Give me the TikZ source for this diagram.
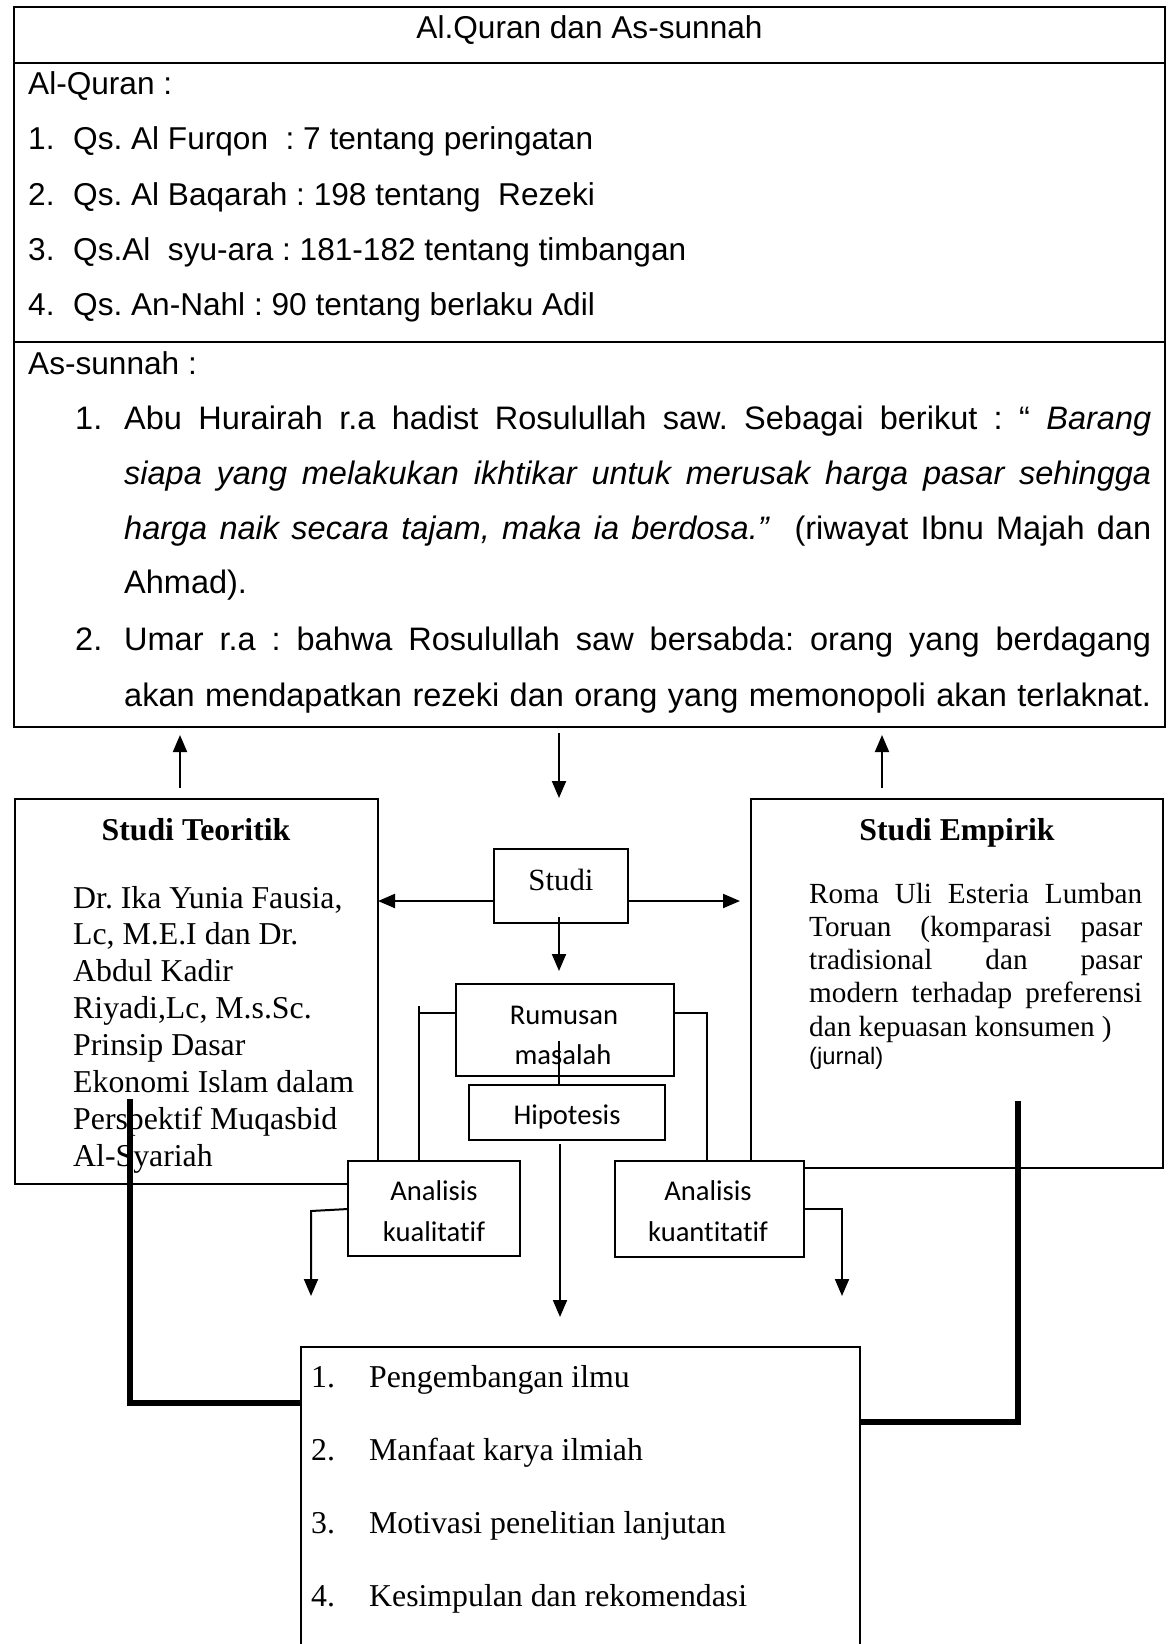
\documentclass[tikz,border=0pt]{standalone}
\usepackage{fontspec}
\setmainfont{Liberation Serif}
\newfontfamily\arialf{Liberation Sans}
\newfontfamily\calf[Ligatures=NoCommon]{Carlito}
\usetikzlibrary{arrows.meta}

\begin{document}
\frenchspacing
\begin{tikzpicture}[x=1pt,y=-1pt,
  boxframe/.style={draw, line width=2pt, fill=white, inner sep=0pt, outer sep=0pt},
  link/.style={line width=2pt},
  arr/.style={line width=2pt, -{Triangle[width=14pt,length=17pt]}},
  heavy/.style={line width=5.5pt},
  lt/.style={inner sep=0pt, anchor=base west},
  ct/.style={inner sep=0pt, anchor=base},
  sansq/.style={font=\arialf\fontsize{31.6}{38}\selectfont},
  sanss/.style={font=\arialf\fontsize{32.5}{39}\selectfont},
  serifb/.style={font=\fontsize{31.8}{37}\selectfont},
  serife/.style={font=\fontsize{29.2}{34}\selectfont},
  calib/.style={font=\calf\fontsize{28.6}{34}\selectfont}
]
\useasboundingbox (0,0) rectangle (1170,1644);
\fill[white] (0,0) rectangle (1170,1644);

% ---------- sources box ----------
\node[boxframe, line width=2.5pt, minimum width=1151pt, minimum height=720pt] (top) at (589.5,367) {};
\draw[line width=2.5pt] (top.west |- 0,63) -- (top.east |- 0,63);
\draw[line width=2.5pt] (top.west |- 0,342) -- (top.east |- 0,342);

\node[ct, sansq] (title) at (589.5,38) {Al.Quran dan As-sunnah};
\node[lt, sansq] (quran) at (28,94) {Al-Quran :};
\node[lt, sansq] (q1) at (28,149) {\makebox[45pt][l]{1.}Qs. Al Furqon\ \ : 7 tentang peringatan};
\node[lt, sansq] (q2) at (28,205) {\makebox[45pt][l]{2.}Qs. Al Baqarah : 198 tentang\ \ Rezeki};
\node[lt, sansq] (q3) at (28,260) {\makebox[45pt][l]{3.}Qs.Al\ \ syu-ara : 181-182 tentang timbangan};
\node[lt, sansq] (q4) at (28,315) {\makebox[45pt][l]{4.}Qs. An-Nahl : 90 tentang berlaku Adil};
\node[lt, sansq] (sunnah) at (28,374) {As-sunnah :};

\node[lt, sanss] (s1n) at (75,429) {1.};
\node[lt, sanss] (s1a) at (124,429) {\makebox[1027pt][s]{Abu Hurairah r.a hadist Rosulullah saw. Sebagai berikut : “ \textit{Barang}}};
\node[lt, sanss] (s1b) at (124,484) {\makebox[1027pt][s]{\itshape siapa yang melakukan ikhtikar untuk merusak harga pasar sehingga}};
\node[lt, sanss] (s1c) at (124,539) {\makebox[1027pt][s]{\textit{harga naik secara tajam, maka ia berdosa.”}\ \ (riwayat Ibnu Majah dan}};
\node[lt, sanss] (s1d) at (124,593) {Ahmad).};
\node[lt, sanss] (s2n) at (75,650) {2.};
\node[lt, sanss] (s2a) at (124,650) {\makebox[1027pt][s]{Umar r.a : bahwa Rosulullah saw bersabda: orang yang berdagang}};
\node[lt, sanss] (s2b) at (124,706) {\makebox[1027pt][s]{akan mendapatkan rezeki dan orang yang memonopoli akan terlaknat.}};

% ---------- study boxes ----------
\node[boxframe, minimum width=363.5pt, minimum height=385pt] (teoritik) at (196.25,991.5) {};
\node[boxframe, minimum width=412pt, minimum height=369pt] (empirik) at (957,983.5) {};
\node[boxframe, minimum width=134pt, minimum height=74pt] (studi) at (561,886) {};
\node[boxframe, minimum width=218pt, minimum height=92pt] (rumusan) at (565,1030) {};
\node[boxframe, minimum width=196pt, minimum height=55pt] (hipotesis) at (567,1112.5) {};

\node[ct, font=\bfseries\fontsize{31.8}{37}\selectfont] (teotitle) at (196,840) {Studi Teoritik};
\foreach \t [count=\i from 0] in {{Dr. Ika Yunia Fausia,},{Lc, M.E.I dan Dr.},{Abdul Kadir},{Riyadi,Lc, M.s.Sc.},{Prinsip Dasar},{Ekonomi Islam dalam},{Perspektif Muqasbid},{Al-Syariah}}
  \node[lt, serifb] (teo-\i) at (73,{908+36.9*\i}) {\t};

\node[ct, font=\bfseries\fontsize{31.8}{37}\selectfont] (emptitle) at (957,840) {Studi Empirik};
\node[lt, serife] (emp-0) at (809,903) {\makebox[333pt][s]{Roma Uli Esteria Lumban}};
\node[lt, serife] (emp-1) at (809,936) {\makebox[333pt][s]{Toruan (komparasi pasar}};
\node[lt, serife] (emp-2) at (809,969) {\makebox[333pt][s]{tradisional dan pasar}};
\node[lt, serife] (emp-3) at (809,1002) {\makebox[333pt][s]{modern terhadap preferensi}};
\node[lt, serife] (emp-4) at (809,1036) {dan kepuasan konsumen )};
\node[lt, font=\arialf\fontsize{23.8}{28}\selectfont] (emp-5) at (809,1064) {(jurnal)};

\node[ct, font=\fontsize{30.8}{36}\selectfont] (studitxt) at (561,890) {Studi};
\node[ct, calib] (rum-0) at (564,1024) {Rumusan};
\node[ct, calib] (rum-1) at (563,1064) {masalah};
\node[ct, calib] (hiptxt) at (567,1124) {Hipotesis};

% ---------- connectors ----------
\draw[arr, shorten <=11pt, shorten >=8pt] (teoritik.north -| 180,0) -- (top.south -| 180,0);
\draw[arr, shorten <=6pt, shorten >=51pt] (top.south -| 559,0) -- (studi.north -| 559,0);
\draw[arr, shorten <=11pt, shorten >=8pt] (empirik.north -| 882,0) -- (top.south -| 882,0);

\draw[arr] (studi.west |- 0,901) -- (teoritik.east |- 0,901);
\draw[arr, shorten >=11pt] (studi.east |- 0,901) -- (empirik.west |- 0,901);
\draw[arr, shorten <=-6pt, shorten >=13pt] (studi.south -| 559,0) -- (rumusan.north -| 559,0);

\coordinate (ljoin) at (419,1006);
\draw[link] (rumusan.west |- 0,1013) -- (ljoin |- 0,1013);
\draw[link] (559,1041) -- (hipotesis.north -| 559,0);
\draw[arr, shorten <=4pt, shorten >=30pt] (hipotesis.south -| 560,0) -- (560,1347);

% ---------- analysis boxes ----------
\node[boxframe, minimum width=172pt, minimum height=95pt] (kualitatif) at (434,1208.5) {};
\node[boxframe, minimum width=189pt, minimum height=96pt] (kuantitatif) at (709.5,1209) {};
\draw[link] (ljoin) -- (ljoin |- kualitatif.north);
\draw[link] (rumusan.east |- 0,1013) -| (kuantitatif.north -| 707,0);

\node[ct, calib] (kl-0) at (434,1200) {Analisis};
\node[ct, calib] (kl-1) at (434,1241) {kualitatif};
\node[ct, calib] (kn-0) at (708,1200) {Analisis};
\node[ct, calib] (kn-1) at (708,1241) {kuantitatif};

\coordinate (kltip) at (311,1296);
\coordinate (kntip) at (842,1296);
\draw[arr] (kualitatif.west |- 0,1209) -- (kltip |- 0,1211) -- (kltip);
\draw[arr] (kuantitatif.east |- 0,1209) -| (kntip);

% ---------- results box ----------
\node[boxframe, anchor=north west, minimum width=559pt, minimum height=320pt] (hasil) at (301,1347) {};
\node[lt, serifb] (h-1) at (311,1387) {\makebox[58pt][l]{1.}Pengembangan ilmu};
\node[lt, serifb] (h-2) at (311,1460) {\makebox[58pt][l]{2.}Manfaat karya ilmiah};
\node[lt, serifb] (h-3) at (311,1533) {\makebox[58pt][l]{3.}Motivasi penelitian lanjutan};
\node[lt, serifb] (h-4) at (311,1606) {\makebox[58pt][l]{4.}Kesimpulan dan rekomendasi};

% ---------- heavy feedback lines ----------
\draw[heavy] (130,1099) |- (hasil.west |- 0,1403);
\draw[heavy] (1018,1101) |- (hasil.east |- 0,1422);
\end{tikzpicture}
\end{document}
